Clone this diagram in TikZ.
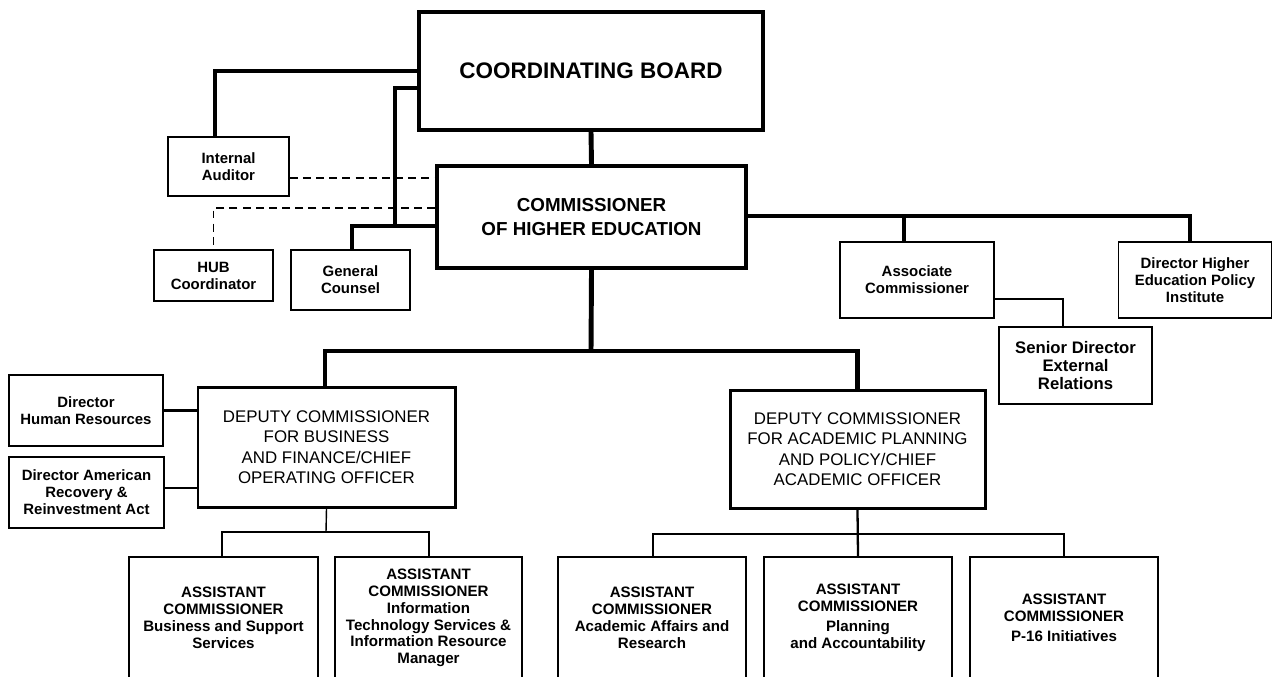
\documentclass[tikz,border=0pt]{standalone}
\usepackage{fontspec}
\setmainfont{Liberation Sans}
\tikzset{
  box/.style={draw,inner sep=0pt,align=center,fill=white},
  bigbox/.style={box,line width=2.3pt,font=\fontsize{12.8}{15}\bfseries},
  commbox/.style={box,line width=2.3pt,font=\fontsize{10.7}{13.6}\bfseries},
  depbox/.style={box,line width=1.7pt,font=\fontsize{9.6}{11.6}\selectfont},
  smallbox/.style={box,line width=0.8pt,font=\fontsize{8.5}{9.6}\bfseries},
  seniorbox/.style={box,line width=0.8pt,font=\fontsize{9.5}{10.5}\bfseries},
  asstbox/.style={box,line width=0.8pt,minimum width=188\unitlength,minimum height=122\unitlength,font=\fontsize{8.6}{9.6}\bfseries},
  thickline/.style={line width=2.8pt},
  midline/.style={line width=1.3pt},
  thinline/.style={line width=0.8pt},
  dashline/.style={line width=1.1pt,dash pattern=on 4.5pt off 3pt},
}
\setlength{\unitlength}{0.02cm}
\begin{document}
\begin{tikzpicture}[x=0.02cm,y=-0.02cm,line join=miter]
  \clip (0,0) rectangle (1273,676);
  \fill[white] (0,0) rectangle (1273,676);
  % connectors first, boxes on top
  \coordinate (split) at (591,351);
  \coordinate (busjoin) at (326,532);
  \coordinate (acadjoin) at (857,534);
  % top boxes
  \node[bigbox,minimum width=344\unitlength,minimum height=118\unitlength] (board) at (591,71) {COORDINATING BOARD};
  \node[commbox,minimum width=309\unitlength,minimum height=102\unitlength] (comm) at (591.5,217) {COMMISSIONER\\OF HIGHER EDUCATION};
  % staff boxes
  \node[smallbox,minimum width=121\unitlength,minimum height=59\unitlength] (audit) at (228.5,166.5) {Internal\\Auditor};
  \node[smallbox,minimum width=119\unitlength,minimum height=51\unitlength] (hub) at (213.5,275.5) {HUB\\Coordinator};
  \node[smallbox,minimum width=119\unitlength,minimum height=60\unitlength] (counsel) at (350.5,280) {General\\Counsel};
  \node[smallbox,minimum width=154\unitlength,minimum height=76\unitlength] (assoc) at (917,280) {Associate\\Commissioner};
  \node[smallbox,minimum width=153\unitlength,minimum height=76\unitlength] (policy) at (1195,280) {Director Higher\\Education Policy\\Institute};
  \node[seniorbox,minimum width=153\unitlength,minimum height=77\unitlength] (senior) at (1075.5,365.5) {Senior Director\\External\\Relations};
  \node[smallbox,minimum width=154\unitlength,minimum height=71\unitlength] (hr) at (86,410.5) {Director\\Human Resources};
  \node[smallbox,minimum width=155\unitlength,minimum height=71\unitlength] (arra) at (86.5,492.5) {Director American\\Recovery \&\\Reinvestment Act};
  % deputies
  \node[depbox,minimum width=257\unitlength,minimum height=120\unitlength] (depbus) at (326.5,447) {DEPUTY COMMISSIONER\\FOR BUSINESS\\AND FINANCE/CHIEF\\OPERATING OFFICER};
  \node[depbox,minimum width=255\unitlength,minimum height=118\unitlength] (depacad) at (857.5,449) {DEPUTY COMMISSIONER\\FOR ACADEMIC PLANNING\\AND POLICY/CHIEF\\ACADEMIC OFFICER};
  % assistants
  \node[asstbox,minimum width=189\unitlength] (asbus) at (223.5,618) {ASSISTANT\\COMMISSIONER\\Business and Support\\Services};
  \node[asstbox,minimum width=187\unitlength] (asit) at (428.5,618) {ASSISTANT\\COMMISSIONER\\Information\\Technology Services \&\\Information Resource\\Manager};
  \node[asstbox] (asacad) at (652,618) {ASSISTANT\\COMMISSIONER\\Academic Affairs and\\Research};
  \node[asstbox] (asplan) at (858,618) {ASSISTANT\\COMMISSIONER\\[2pt]Planning\\and Accountability};
  \node[asstbox] (asp16) at (1064,618) {ASSISTANT\\COMMISSIONER\\[2pt]P-16 Initiatives};
  % board links
  \draw[thickline] (board.west) -| (215,0 |- audit.north);
  \draw[thickline] (board.west |- 0,88) -| (395,226);
  \draw[thickline] (comm.west |- 0,226) -| (352,0 |- counsel.north);
  \draw[thickline] (board.south) -- (comm.north);
  \draw[dashline] (audit.east |- 0,178) -- (comm.west |- 0,178);
  \draw[dashline] (comm.west |- 0,208) -| (hub.north);
  % right side
  \draw[thickline] (comm.east |- 0,216) -| (1190,0 |- policy.north);
  \draw[thickline] (904,216) -- (904,0 |- assoc.north);
  \draw[thinline] (assoc.east |- 0,299) -| (1063,0 |- senior.north);
  % deputies
  \draw[thickline] (comm.south) -- (split);
  \draw[thickline] (325,0 |- depbus.north) |- (split) -| (depacad.north);
  \draw[midline] (hr.east) -- (depbus.west |- hr.east);
  \draw[thinline] (arra.east |- 0,488) -- (depbus.west |- 0,488);
  % assistants
  \draw[thinline] (depbus.south) -- (busjoin);
  \draw[midline] (222,0 |- asbus.north) |- (busjoin) -| (429,0 |- asit.north);
  \draw[midline] (depacad.south) -- (asplan.north);
  \draw[midline] (653,0 |- asacad.north) |- (acadjoin) -| (asp16.north);
\end{tikzpicture}
\end{document}
